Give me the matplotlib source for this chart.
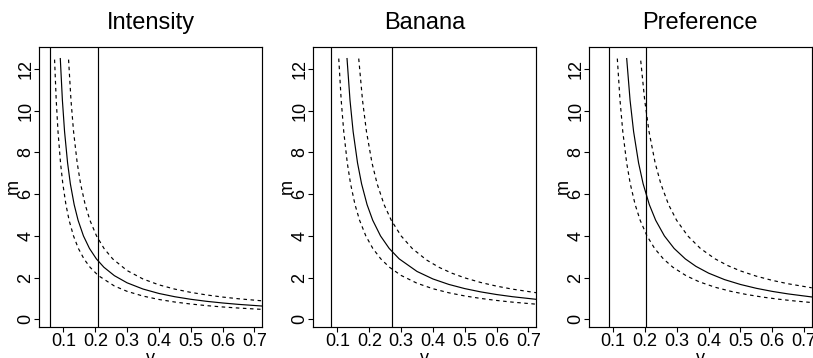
import numpy as np
import matplotlib.pyplot as plt

plt.rcParams['font.family'] = ['Liberation Sans', 'DejaVu Sans']

titles = ['Intensity', 'Banana', 'Preference']

# vertical reference lines (v) for each panel
vlines = [[0.057, 0.209], [0.081, 0.2715], [0.088, 0.2023]]

# Intensity: fitted curve and two bounds
int_fit_v = [0.0900, 0.0966, 0.1034, 0.1129, 0.1216, 0.1336, 0.1459, 0.1628, 0.1817, 0.2034, 0.2270,
             0.26, 0.30, 0.35, 0.40, 0.45, 0.50, 0.55, 0.60, 0.65, 0.724]
int_fit_m = [12.5, 10.5, 9.0, 7.5, 6.5, 5.5, 4.75, 4.0, 3.4, 2.9, 2.5,
             2.096, 1.753, 1.455, 1.243, 1.086, 0.964, 0.866, 0.787, 0.720, 0.641]
int_hi_v = [0.1160, 0.1236, 0.1317, 0.1431, 0.1537, 0.1682, 0.1831, 0.2039, 0.2274, 0.2547,
            0.30, 0.35, 0.40, 0.45, 0.50, 0.55, 0.60, 0.65, 0.724]
int_hi_m = [12.45, 10.5, 9.0, 7.5, 6.5, 5.5, 4.75, 4.0, 3.4, 2.9,
            2.340, 1.936, 1.656, 1.451, 1.295, 1.171, 1.071, 0.989, 0.890]
int_lo_v = [0.0720, 0.0772, 0.0828, 0.0907, 0.0979, 0.1077, 0.1177, 0.1315, 0.1468, 0.1644, 0.1834, 0.2095,
            0.26, 0.30, 0.35, 0.40, 0.45, 0.50, 0.55, 0.60, 0.65, 0.724]
int_lo_m = [12.45, 10.5, 9.0, 7.5, 6.5, 5.5, 4.75, 4.0, 3.4, 2.9, 2.5, 2.1,
            1.600, 1.344, 1.118, 0.955, 0.832, 0.737, 0.660, 0.596, 0.544, 0.480]

# Banana
ban_fit_v = [0.1300, 0.1394, 0.1492, 0.1630, 0.1757, 0.1930, 0.2108, 0.2353, 0.2626, 0.2940,
             0.35, 0.40, 0.45, 0.50, 0.55, 0.60, 0.65, 0.724]
ban_fit_m = [12.5, 10.5, 9.0, 7.5, 6.5, 5.5, 4.75, 4.0, 3.4, 2.9,
             2.298, 1.938, 1.676, 1.476, 1.319, 1.192, 1.088, 0.963]
ban_hi_v = [0.1668, 0.1787, 0.1911, 0.2085, 0.2246, 0.2465, 0.2691, 0.3001, 0.3349,
            0.38, 0.42, 0.46, 0.50, 0.55, 0.60, 0.65, 0.724]
ban_hi_m = [12.5, 10.5, 9.0, 7.5, 6.5, 5.5, 4.75, 4.0, 3.4,
            2.847, 2.489, 2.212, 1.991, 1.770, 1.594, 1.450, 1.280]
ban_lo_v = [0.1040, 0.1117, 0.1197, 0.1308, 0.1411, 0.1551, 0.1695, 0.1891, 0.2111, 0.2362, 0.2634,
            0.30, 0.35, 0.40, 0.45, 0.50, 0.55, 0.60, 0.65, 0.724]
ban_lo_m = [12.5, 10.5, 9.0, 7.5, 6.5, 5.5, 4.75, 4.0, 3.4, 2.9, 2.5,
            2.107, 1.733, 1.470, 1.275, 1.124, 1.005, 0.908, 0.827, 0.730]

# Preference
pre_fit_v = [0.1425, 0.1531, 0.1642, 0.1798, 0.1941, 0.2136, 0.2336, 0.2610, 0.2916, 0.3267,
             0.36, 0.40, 0.45, 0.50, 0.55, 0.60, 0.65, 0.724]
pre_fit_m = [12.5, 10.5, 9.0, 7.5, 6.5, 5.5, 4.75, 4.0, 3.4, 2.9,
             2.543, 2.216, 1.907, 1.674, 1.490, 1.342, 1.221, 1.076]
pre_hi_v = [0.1866, 0.1991, 0.2127, 0.2319, 0.2497, 0.2741, 0.2994, 0.3345, 0.3742,
            0.42, 0.46, 0.50, 0.55, 0.60, 0.65, 0.724]
pre_hi_m = [12.4, 10.5, 9.0, 7.5, 6.5, 5.5, 4.75, 4.0, 3.4,
            2.904, 2.580, 2.324, 2.071, 1.870, 1.707, 1.515]
pre_lo_v = [0.1130, 0.1215, 0.1302, 0.1424, 0.1537, 0.1691, 0.1848, 0.2063, 0.2303, 0.2578, 0.2876,
            0.33, 0.37, 0.42, 0.47, 0.52, 0.57, 0.62, 0.67, 0.724]
pre_lo_m = [12.5, 10.5, 9.0, 7.5, 6.5, 5.5, 4.75, 4.0, 3.4, 2.9, 2.5,
            2.087, 1.805, 1.542, 1.345, 1.191, 1.068, 0.968, 0.884, 0.808]

curves = [
    [(int_fit_v, int_fit_m), (int_hi_v, int_hi_m), (int_lo_v, int_lo_m)],
    [(ban_fit_v, ban_fit_m), (ban_hi_v, ban_hi_m), (ban_lo_v, ban_lo_m)],
    [(pre_fit_v, pre_fit_m), (pre_hi_v, pre_hi_m), (pre_lo_v, pre_lo_m)],
]

x_ticks = [0.1, 0.2, 0.3, 0.4, 0.5, 0.6, 0.7]
y_ticks = [0, 2, 4, 6, 8, 10, 12]

W, H = 813, 358
fig = plt.figure(figsize=(W / 100, H / 100), dpi=100)
lefts = [39.3, 313.3, 589.0]

for i in range(3):
    ax = fig.add_axes([lefts[i] / W, (H - 326.7) / H, 222.7 / W, 279.4 / H])
    fit, hi, lo = curves[i]
    ax.plot(fit[0], fit[1], color='black', lw=0.85)
    ax.plot(hi[0], hi[1], color='black', lw=0.85, linestyle=(0, (3, 3)))
    ax.plot(lo[0], lo[1], color='black', lw=0.85, linestyle=(0, (3, 3)))
    for xv in vlines[i]:
        ax.axvline(xv, color='black', lw=0.85)
    ax.set_xlim(0.024, 0.724)
    ax.set_ylim(-0.35, 13.04)
    ax.set_xticks(x_ticks)
    ax.set_xticklabels([str(t) for t in x_ticks])
    ax.set_yticks(y_ticks)
    ax.set_yticklabels([str(t) for t in y_ticks], rotation=90, va='center')
    ax.tick_params(direction='out', length=3.5, width=0.8, labelsize=13, pad=1)
    ax.tick_params(axis='y', pad=0)
    for s in ax.spines.values():
        s.set_linewidth(0.85)
    ax.set_title(titles[i], fontsize=17, pad=13)
    ax.set_xlabel('v', fontsize=13, labelpad=0)
    ax.set_ylabel('m', fontsize=13, labelpad=-3)

fig.savefig('out.png', dpi=100)
